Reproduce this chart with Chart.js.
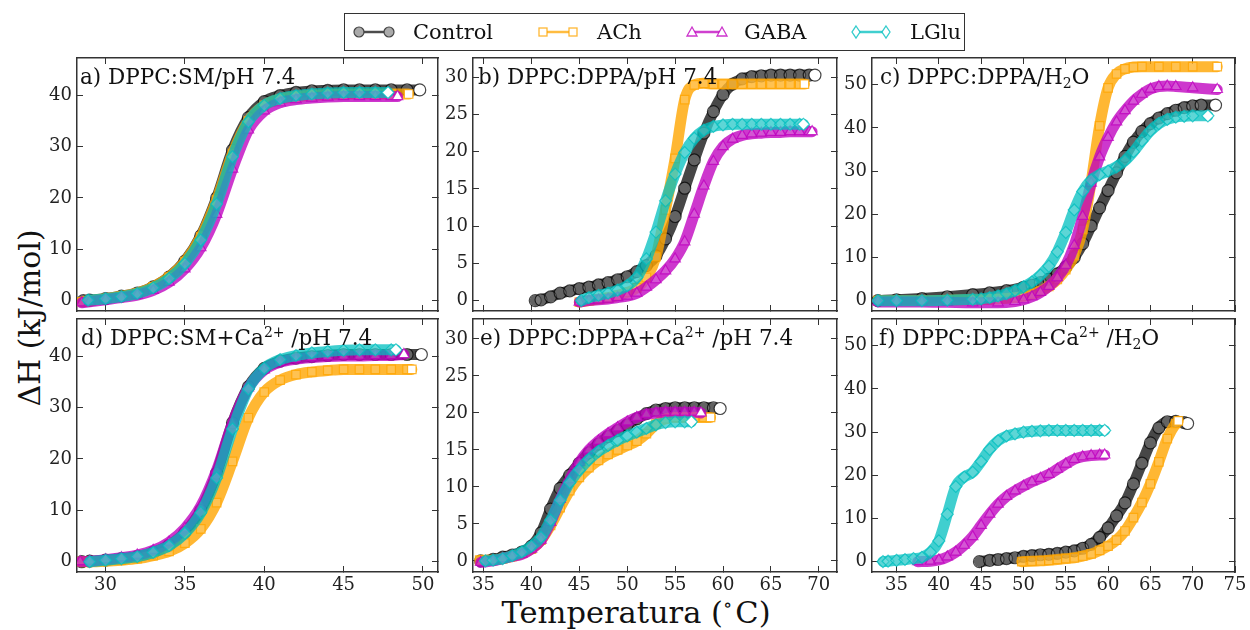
<!DOCTYPE html>
<html>
<head>
<meta charset="utf-8">
<script src="https://cdn.jsdelivr.net/npm/chart.js@4.4.1/dist/chart.umd.min.js"></script>
<style>
  html, body { margin: 0; padding: 0; background: #fff; }
  body { width: 1250px; height: 630px; position: relative; overflow: hidden; font-family: "DejaVu Serif", serif; color: #111; }
  .panel { position: absolute; }
  .ptitle { position: absolute; font-size: 21.5px; line-height: 20px; white-space: nowrap; z-index: 5; }
  .ptitle sup { font-size: 14px; vertical-align: 8px; line-height: 0; }
  .ptitle sub { font-size: 14px; vertical-align: -4px; line-height: 0; }
  #legend { position: absolute; left: 344px; top: 13px; width: 621px; height: 38px; box-sizing: border-box; border: 1.5px solid #333; z-index: 5; }
  #legend span { position: absolute; top: 6px; font-size: 21px; line-height: 24px; white-space: nowrap; }
  #legend svg { position: absolute; left: 0; top: 0; }
  #ytitle { position: absolute; left: 29px; top: 318px; transform: translate(-50%, -50%) rotate(-90deg); font-size: 30px; white-space: nowrap; }
  #xtitle { position: absolute; left: 636px; top: 598px; transform: translateX(-50%); font-size: 30.5px; line-height: 30px; white-space: nowrap; }
  #xtitle sup { font-size: 19px; vertical-align: 12px; line-height: 0; margin-right: 3px; }
</style>
</head>
<body>
<div id="legend">
  <svg width="621" height="38">
    <line x1="14" y1="18" x2="44" y2="18" stroke="rgba(0,0,0,0.7)" stroke-width="2.5"/>
    <circle cx="14" cy="18" r="5" fill="#aaa" stroke="#444" stroke-width="1.2"/>
    <circle cx="44" cy="18" r="5" fill="#aaa" stroke="#444" stroke-width="1.2"/>
    <line x1="198" y1="18" x2="228" y2="18" stroke="rgba(255,165,0,0.75)" stroke-width="2.5"/>
    <rect x="194" y="14" width="8" height="8" fill="#fff" stroke="rgba(255,165,0,0.8)" stroke-width="1.3"/>
    <rect x="224" y="14" width="8" height="8" fill="#fff" stroke="rgba(255,165,0,0.8)" stroke-width="1.3"/>
    <line x1="347" y1="18" x2="377" y2="18" stroke="rgba(191,0,191,0.75)" stroke-width="2.5"/>
    <polygon points="347,13 352,22 342,22" fill="#fff" stroke="rgba(191,0,191,0.8)" stroke-width="1.3"/>
    <polygon points="377,13 382,22 372,22" fill="#fff" stroke="rgba(191,0,191,0.8)" stroke-width="1.3"/>
    <line x1="511" y1="18" x2="541" y2="18" stroke="rgba(0,191,191,0.75)" stroke-width="2.5"/>
    <polygon points="511,12 515,18 511,24 507,18" fill="#fff" stroke="rgba(0,191,191,0.8)" stroke-width="1.3"/>
    <polygon points="541,12 545,18 541,24 537,18" fill="#fff" stroke="rgba(0,191,191,0.8)" stroke-width="1.3"/>
  </svg>
  <span style="left:68px">Control</span>
  <span style="left:252px">ACh</span>
  <span style="left:399px">GABA</span>
  <span style="left:565px">LGlu</span>
</div>
<div id="ytitle">ΔH (kJ/mol)</div>
<div id="xtitle">Temperatura (<sup>∘</sup>C)</div>
<script>
// ---- data: temperature (°C) and ΔH (kJ/mol) per series ----
const seriesNames = ['Control', 'ACh', 'GABA', 'LGlu'];
const panelTitles = [
  'a) DPPC:SM/pH 7.4',
  'b) DPPC:DPPA/pH 7.4',
  'c) DPPC:DPPA/H<sub>2</sub>O',
  'd) DPPC:SM+Ca<sup>2+</sup> /pH 7.4',
  'e) DPPC:DPPA+Ca<sup>2+</sup> /pH 7.4',
  'f) DPPC:DPPA+Ca<sup>2+</sup> /H<sub>2</sub>O'
];

// tick labels
const smXTicks = [30, 35, 40, 45, 50];
const smYTicks = [0, 10, 20, 30, 40];
const ppXTicks = [35, 40, 45, 50, 55, 60, 65, 70];
const ppYTicks = [0, 5, 10, 15, 20, 25, 30];
const waXTicks = [35, 40, 45, 50, 55, 60, 65, 70, 75];
const waYTicks = [0, 10, 20, 30, 40, 50];

// a) DPPC:SM/pH 7.4
const aControlT = [28.6, 29, 30, 31, 32, 33, 34, 35, 36, 37, 38, 39, 40, 41, 42, 43, 44, 45, 46, 47, 48, 49, 49.8];
const aControlH = [0, 0.1, 0.4, 0.9, 1.5, 2.7, 4.6, 7.7, 12.6, 20.0, 29.3, 35.6, 38.7, 39.9, 40.5, 40.8, 40.9, 41.0, 41.0, 41.0, 41.0, 41.0, 41.0];
const aAChT = [28.5, 29, 30, 31, 32, 33, 34, 35, 36, 37, 38, 39, 40, 41, 42, 43, 44, 45, 46, 47, 48, 49.1];
const aAChH = [-0.2, 0, 0.4, 0.9, 1.5, 2.7, 4.6, 7.6, 12.4, 19.6, 28.6, 35.0, 38.0, 39.2, 39.7, 40.0, 40.1, 40.2, 40.2, 40.2, 40.2, 40.2];
const aGABAT = [28.5, 29, 30, 31, 32, 33, 34, 35, 36, 37, 38, 39, 40, 41, 42, 43, 44, 45, 46, 47, 48, 48.4];
const aGABAH = [-0.4, -0.2, 0.2, 0.6, 1.1, 2.0, 3.6, 6.2, 10.3, 16.8, 25.6, 33.2, 36.9, 38.5, 39.1, 39.4, 39.6, 39.7, 39.7, 39.7, 39.7, 39.7];
const aLGluT = [28.9, 30, 31, 32, 33, 34, 35, 36, 37, 38, 39, 40, 41, 42, 43, 44, 45, 46, 47, 47.8];
const aLGluH = [0.1, 0.4, 0.8, 1.4, 2.5, 4.3, 7.2, 11.8, 18.8, 28.0, 34.8, 38.0, 39.3, 39.9, 40.2, 40.4, 40.5, 40.5, 40.5, 40.5];

// b) DPPC:DPPA/pH 7.4
const bControlT = [40.4, 41, 42, 43, 44, 45, 46, 47, 48, 49, 50, 51, 52, 53, 54, 55, 56, 57, 58, 59, 60, 61, 62, 63, 64, 65, 66, 67, 68, 69, 69.6];
const bControlH = [0, 0.1, 0.5, 1.0, 1.3, 1.6, 1.8, 2.1, 2.4, 2.8, 3.2, 3.9, 4.7, 6.0, 8.3, 11.3, 15.1, 18.9, 22.5, 25.4, 27.7, 29.1, 29.8, 30.1, 30.2, 30.3, 30.3, 30.3, 30.3, 30.3, 30.3];
const bAChT = [45, 46, 47, 48, 49, 50, 51, 52, 53, 54, 55, 56, 57, 58, 59, 60, 61, 62, 63, 64, 65, 66, 67, 68, 68.5];
const bAChH = [-0.2, 0, 0.2, 0.4, 0.7, 1.1, 1.7, 3.1, 5.9, 12.2, 19.1, 27.0, 29.0, 29.2, 29.1, 29.1, 29.1, 29.1, 29.1, 29.1, 29.1, 29.1, 29.1, 29.1, 29.1];
const bGABAT = [45, 46, 47, 48, 49, 50, 51, 52, 53, 54, 55, 56, 57, 58, 59, 60, 61, 62, 63, 64, 65, 66, 67, 68, 69, 69.3];
const bGABAH = [-0.2, 0, 0.1, 0.2, 0.4, 0.6, 1.0, 1.8, 2.8, 4.0, 5.6, 7.9, 11.6, 15.4, 18.7, 20.7, 21.7, 22.2, 22.4, 22.5, 22.6, 22.6, 22.7, 22.7, 22.7, 22.7];
const bLGluT = [45.2, 46, 47, 48, 49, 50, 51, 52, 53, 54, 55, 56, 57, 58, 59, 60, 61, 62, 63, 64, 65, 66, 67, 68, 68.4];
const bLGluH = [0, 0.4, 0.7, 1.0, 1.4, 2.0, 3.1, 5.6, 9.2, 13.4, 17.0, 19.9, 21.8, 22.9, 23.4, 23.6, 23.7, 23.7, 23.7, 23.7, 23.7, 23.7, 23.7, 23.7, 23.7];

// c) DPPC:DPPA/H2O
const cControlT = [32.8, 35, 38, 41, 44, 46, 48, 50, 51, 52, 53, 54, 55, 56, 57, 58, 59, 60, 61, 62, 63, 64, 65, 66, 67, 68, 69, 70, 71, 72.7];
const cControlH = [0, 0.2, 0.5, 0.9, 1.4, 1.8, 2.3, 3.1, 3.6, 4.2, 5.0, 6.2, 7.8, 10.0, 13.2, 17.3, 21.5, 25.5, 29.6, 33.4, 36.7, 39.2, 41.0, 42.3, 43.3, 44.1, 44.7, 45.1, 45.3, 45.3];
const cAChT = [32.8, 35, 38, 41, 44, 47, 49, 50, 51, 52, 53, 54, 55, 56, 57, 58, 59, 60, 61, 62, 63, 64, 66, 68, 70, 72.9];
const cAChH = [0, 0, 0, 0.1, 0.2, 0.4, 0.7, 1.0, 1.5, 2.2, 3.3, 4.9, 7.2, 10.5, 16.5, 27.5, 40.5, 49.3, 52.5, 53.7, 54.1, 54.2, 54.2, 54.2, 54.2, 54.2];
const cGABAT = [32.8, 35, 38, 41, 44, 47, 49, 50, 51, 52, 53, 54, 55, 56, 57, 58, 59, 60, 61, 62, 63, 64, 65, 66, 67, 68, 70, 72.9];
const cGABAH = [-0.3, -0.3, -0.3, -0.4, -0.5, -0.5, -0.2, 0.2, 0.9, 1.9, 3.3, 5.3, 8.2, 12.8, 19.5, 27.2, 33.3, 37.8, 41.4, 44.0, 46.2, 47.8, 49.0, 49.6, 49.7, 49.6, 49.3, 48.9];
const cLGluT = [32.8, 35, 38, 41, 44, 45, 46, 47, 48, 49, 50, 51, 52, 53, 54, 55, 56, 57, 58, 59, 60, 61, 62, 63, 64, 65, 66, 67, 68, 69, 70, 71.8];
const cLGluH = [0, 0, 0, 0.1, 0.3, 0.4, 0.7, 1.1, 1.6, 2.3, 3.2, 4.3, 5.9, 8.0, 11.3, 15.8, 21.0, 25.3, 27.9, 29.2, 30.0, 31.0, 32.4, 34.5, 37.0, 39.3, 41.0, 42.0, 42.5, 42.7, 42.8, 42.8];

// d) DPPC:SM+Ca2+/pH 7.4
const dControlT = [28.5, 29, 30, 31, 32, 33, 34, 35, 36, 37, 38, 39, 40, 41, 42, 43, 44, 45, 46, 47, 48, 49, 49.9];
const dControlH = [0, 0.1, 0.3, 0.6, 1.0, 1.8, 3.2, 5.7, 10.0, 17.2, 27.0, 34.0, 37.6, 39.0, 39.6, 39.9, 40.1, 40.3, 40.3, 40.3, 40.3, 40.3, 40.3];
const dAChT = [28.4, 29, 30, 31, 32, 33, 34, 35, 36, 37, 38, 39, 40, 41, 42, 43, 44, 45, 46, 47, 48, 49, 49.3];
const dAChH = [0, 0, 0.1, 0.3, 0.6, 1.2, 2.0, 3.6, 6.4, 11.5, 19.5, 28.0, 33.0, 35.3, 36.4, 36.9, 37.2, 37.4, 37.4, 37.4, 37.4, 37.4, 37.4];
const dGABAT = [28.4, 29, 30, 31, 32, 33, 34, 35, 36, 37, 38, 39, 40, 41, 42, 43, 44, 45, 46, 47, 48, 48.8];
const dGABAH = [0, 0.1, 0.4, 0.8, 1.3, 2.2, 3.8, 6.5, 10.8, 17.8, 27.0, 33.8, 37.3, 38.8, 39.4, 39.7, 39.9, 40.0, 40.0, 40.1, 40.1, 40.3];
const dLGluT = [29, 30, 31, 32, 33, 34, 35, 36, 37, 38, 39, 40, 41, 42, 43, 44, 45, 46, 47, 48, 48.3];
const dLGluH = [0, 0.3, 0.6, 1.0, 1.8, 3.1, 5.5, 9.5, 16.3, 25.8, 33.6, 37.6, 39.3, 40.1, 40.6, 40.9, 41.1, 41.2, 41.2, 41.2, 41.2];

// e) DPPC:DPPA+Ca2+/pH 7.4
const eControlT = [34.7, 36, 37, 38, 39, 40, 41, 42, 43, 44, 45, 46, 47, 48, 49, 50, 51, 52, 53, 54, 55, 56, 57, 58, 59, 59.7];
const eControlH = [0, 0.2, 0.5, 0.8, 1.2, 2.0, 3.8, 7.0, 9.8, 11.6, 13.2, 14.6, 15.8, 16.8, 17.6, 18.4, 19.2, 19.9, 20.4, 20.6, 20.7, 20.7, 20.7, 20.7, 20.7, 20.6];
const eAChT = [34.6, 36, 37, 38, 39, 40, 41, 42, 43, 44, 45, 46, 47, 48, 49, 50, 51, 52, 53, 54, 55, 56, 57, 58, 58.7];
const eAChH = [0.1, 0.1, 0.3, 0.6, 1.0, 1.6, 2.8, 4.8, 7.2, 9.5, 11.3, 12.6, 13.6, 14.4, 15.0, 15.6, 16.2, 17.2, 18.5, 19.2, 19.4, 19.4, 19.4, 19.4, 19.4];
const eGABAT = [34.7, 36, 37, 38, 39, 40, 41, 42, 43, 44, 45, 46, 47, 48, 49, 50, 51, 52, 53, 54, 55, 56, 57, 57.7];
const eGABAH = [-0.2, 0, 0.3, 0.6, 0.9, 1.6, 2.8, 5.2, 8.3, 11.0, 13.3, 15.0, 16.2, 17.2, 18.0, 18.8, 19.4, 19.8, 20.0, 20.1, 20.1, 20.1, 20.1, 20.0];
const eLGluT = [35.2, 36, 37, 38, 39, 40, 41, 42, 43, 44, 45, 46, 47, 48, 49, 50, 51, 52, 53, 54, 55, 56, 56.7];
const eLGluH = [0, 0.1, 0.3, 0.7, 1.2, 2.0, 3.2, 5.5, 8.2, 10.6, 12.3, 13.7, 14.8, 15.6, 16.3, 16.9, 17.4, 17.9, 18.4, 18.7, 18.8, 18.8, 18.8];

// f) DPPC:DPPA+Ca2+/H2O
const fControlT = [44.8, 46, 47, 48, 49, 50, 51, 52, 53, 54, 55, 56, 57, 58, 59, 60, 61, 62, 63, 64, 65, 66, 67, 68, 69, 69.4];
const fControlH = [0, 0.3, 0.5, 0.7, 0.9, 1.2, 1.4, 1.6, 1.7, 1.9, 2.2, 2.5, 3.1, 4.0, 5.6, 7.8, 10.6, 13.6, 18.0, 22.8, 27.5, 31.0, 32.4, 32.5, 32.2, 32.0];
const fAChT = [49.8, 51, 52, 53, 54, 55, 56, 57, 58, 59, 60, 61, 62, 63, 64, 65, 66, 67, 68, 68.3];
const fAChH = [0, 0.1, 0.2, 0.3, 0.5, 0.7, 0.9, 1.3, 1.8, 2.6, 3.6, 5.0, 7.1, 10.2, 13.7, 18.0, 23.1, 28.5, 32.0, 32.6];
const fGABAT = [37.5, 39, 40, 41, 42, 43, 44, 45, 46, 47, 48, 49, 50, 51, 52, 53, 54, 55, 56, 57, 58, 59, 59.6];
const fGABAH = [0, 0.1, 0.4, 1.1, 2.2, 3.8, 5.8, 8.4, 11.0, 13.3, 15.1, 16.4, 17.5, 18.5, 19.3, 20.2, 21.4, 22.6, 23.7, 24.3, 24.6, 24.7, 24.7];
const fLGluT = [33.4, 34, 35, 36, 37, 38, 39, 40, 41, 42, 43, 44, 45, 46, 47, 48, 49, 50, 51, 52, 53, 54, 55, 56, 57, 58, 59, 59.6];
const fLGluH = [0, 0.1, 0.3, 0.5, 0.7, 1.0, 2.2, 4.8, 11.0, 17.4, 19.6, 20.7, 23.2, 26.0, 28.0, 29.1, 29.6, 30.0, 30.2, 30.3, 30.4, 30.4, 30.4, 30.4, 30.4, 30.4, 30.4, 30.4];

// ---- styling / layout ----
const FONT = '"DejaVu Serif", serif';
const seriesColors = ['rgba(0,0,0,0.72)', 'rgba(255,165,0,0.8)', 'rgba(191,0,191,0.78)', 'rgba(0,191,191,0.75)'];
const seriesMarkers = ['circle', 'rect', 'triangle', 'rectRot'];
const COLS = [[77, 438], [473, 837], [872, 1235]];
const ROWS = [[58, 311], [319, 572]];
const YW = 50, XH = 40, PT = 26, PR = 30;
const titleLeft = [80, 478, 880, 81, 480, 879];

const panels = [
  { x: [28.2, 50.95], y: [-2, 47.2], xt: smXTicks, yt: smYTicks, s: [[aControlT, aControlH], [aAChT, aAChH], [aGABAT, aGABAH], [aLGluT, aLGluH]] },
  { x: [33.9, 71.9], y: [-1.4, 32.6], xt: ppXTicks, yt: ppYTicks, s: [[bControlT, bControlH], [bAChT, bAChH], [bGABAT, bGABAH], [bLGluT, bLGluH]] },
  { x: [32.1, 75], y: [-2.4, 56.2], xt: waXTicks, yt: waYTicks, s: [[cControlT, cControlH], [cAChT, cAChH], [cGABAT, cGABAH], [cLGluT, cLGluH]] },
  { x: [28.2, 50.95], y: [-2, 47.2], xt: smXTicks, yt: smYTicks, s: [[dControlT, dControlH], [dAChT, dAChH], [dGABAT, dGABAH], [dLGluT, dLGluH]] },
  { x: [33.9, 71.9], y: [-1.5, 32.7], xt: ppXTicks, yt: ppYTicks, s: [[eControlT, eControlH], [eAChT, eAChH], [eGABAT, eGABAH], [eLGluT, eLGluH]] },
  { x: [32.1, 75], y: [-2.4, 56.2], xt: waXTicks, yt: waYTicks, s: [[fControlT, fControlH], [fAChT, fAChH], [fGABAT, fGABAH], [fLGluT, fLGluH]] }
];

function axis(range, ticks, pos, showLabels, size) {
  const horizontal = pos === 'top' || pos === 'bottom';
  return {
    type: 'linear', position: pos, min: range[0], max: range[1],
    afterBuildTicks: a => { a.ticks = ticks.map(v => ({ value: v })); },
    afterFit: a => { if (horizontal) a.height = size; else a.width = size; },
    ticks: { display: showLabels, autoSkip: false, maxRotation: 0, padding: horizontal ? 9 : 11,
             color: '#222', font: { family: FONT, size: 18 } },
    grid: { drawOnChartArea: false, drawTicks: true, tickLength: -6, tickColor: '#333', tickWidth: 1 },
    border: { display: true, color: '#333', width: 1.5 }
  };
}

panels.forEach((p, i) => {
  const [L, R] = COLS[i % 3];
  const [T, B] = ROWS[Math.floor(i / 3)];
  const bottomRow = i >= 3;
  const div = document.createElement('div');
  div.className = 'panel';
  const w = R - L + YW + PR, h = B - T + PT + XH;
  div.style.left = (L - YW) + 'px';
  div.style.top = (T - PT) + 'px';
  const canvas = document.createElement('canvas');
  canvas.width = w; canvas.height = h;
  div.appendChild(canvas);
  document.body.appendChild(div);

  const title = document.createElement('div');
  title.className = 'ptitle';
  title.style.left = titleLeft[i] + 'px';
  title.style.top = (T + 9) + 'px';
  title.innerHTML = panelTitles[i];
  document.body.appendChild(title);

  const datasets = p.s.map(([temps, vals], k) => ({
    label: seriesNames[k],
    data: temps.map((t, j) => ({ x: t, y: vals[j] })),
    showLine: true,
    borderColor: seriesColors[k],
    borderWidth: 11,
    borderCapStyle: 'round',
    borderJoinStyle: 'round',
    cubicInterpolationMode: 'monotone',
    pointStyle: seriesMarkers[k],
    pointRadius: 6,
    pointBorderWidth: 1.2,
    pointBorderColor: seriesColors[k],
    pointBackgroundColor: ctx => ctx.dataIndex === temps.length - 1 ? '#fff' : 'rgba(255,255,255,0.15)',
    order: 4 - k
  }));

  new Chart(canvas, {
    type: 'scatter',
    data: { datasets },
    options: {
      responsive: false,
      animation: false,
      devicePixelRatio: 1,
      layout: { padding: { top: PT, right: PR, left: 0, bottom: 0 } },
      plugins: { legend: { display: false }, tooltip: { enabled: false } },
      scales: {
        x: axis(p.x, p.xt, 'bottom', bottomRow, XH),
        xTop: axis(p.x, p.xt, 'top', false, 0),
        y: axis(p.y, p.yt, 'left', true, YW),
        yRight: axis(p.y, p.yt, 'right', false, 0)
      }
    }
  });
});
</script>
</body>
</html>
